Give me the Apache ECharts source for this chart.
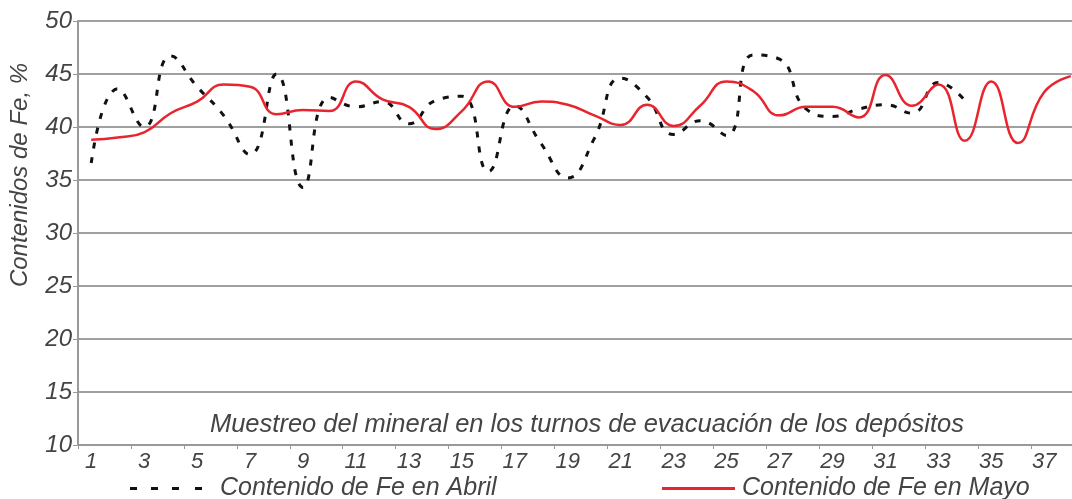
<!DOCTYPE html>
<html>
<head>
<meta charset="utf-8">
<script src="https://cdn.jsdelivr.net/npm/echarts@6/dist/echarts.min.js"></script>
<style>
  html, body { margin: 0; padding: 0; background: #fff; }
  #chart { width: 1072px; height: 499px; }
</style>
</head>
<body>
<div id="chart"></div>
<script>
var chart = echarts.init(document.getElementById("chart"));

// turnos de muestreo 1..38
var turnos = [];
for (var i = 1; i <= 38; i++) turnos.push(String(i));

// contenido de Fe en abril (solo hasta el turno 34)
var abril = [36.6, 43.6, 40.0, 46.7, 43.8, 41.1, 37.4, 45.0, 34.3, 42.8,
  41.9, 42.4, 40.3, 42.5, 42.9, 35.8, 42.0, 38.4, 35.2, 38.9,
  44.6, 42.8, 39.3, 40.6, 39.2, 46.8, 46.4, 41.7, 41.0, 41.7,
  42.1, 41.3, 44.2, 42.5, null, null, null, null];

// contenido de Fe en mayo
var mayo = [38.8, 39.0, 39.5, 41.3, 42.4, 44.0, 43.8, 41.2, 41.6, 41.5,
  44.3, 42.6, 41.9, 39.8, 41.5, 44.3, 41.9, 42.4, 42.1, 41.1,
  40.2, 42.1, 40.1, 42.0, 44.3, 43.4, 41.1, 41.9, 41.9, 40.9,
  44.9, 42.0, 44.0, 38.7, 44.3, 38.5, 43.3, 44.8];

var font = "Liberation Sans";
var txt = "#444";

var option = {
  animation: false,
  // the picture is cut on the right, so the plot runs past the canvas
  grid: { left: 78, width: 1006, top: 21, bottom: 54, outerBoundsMode: "none", containLabel: false },
  legend: [
    {
      left: 125, top: 471,
      itemWidth: 72, itemHeight: 3,
      icon: "path://M0,0h7v3h-7zM21,0h7v3h-7zM42,0h7v3h-7zM65,0h7v3h-7z",
      data: ["Contenido de Fe en Abril"],
      textStyle: { fontFamily: font, fontStyle: "italic", fontSize: 25, color: txt, padding: [0, 0, 0, 13] }
    },
    {
      left: 657, top: 471,
      itemWidth: 73, itemHeight: 3,
      icon: "rect",
      data: ["Contenido de Fe en Mayo"],
      textStyle: { fontFamily: font, fontStyle: "italic", fontSize: 25, color: txt, padding: [0, 0, 0, 2] }
    }
  ],
  xAxis: {
    type: "category",
    data: turnos,
    boundaryGap: true,
    axisLine: { lineStyle: { color: "#999", width: 2 } },
    axisTick: { show: true, length: 4, lineStyle: { color: "#999" } },
    axisLabel: {
      interval: 1,
      margin: 6,
      fontFamily: font, fontStyle: "italic", fontSize: 22, color: txt
    }
  },
  yAxis: {
    type: "value",
    min: 10, max: 50, interval: 5,
    axisLine: { show: true, lineStyle: { color: "#999", width: 2 } },
    axisTick: { show: true, length: 5, lineStyle: { color: "#999" } },
    axisLabel: {
      margin: 6,
      fontFamily: font, fontStyle: "italic", fontSize: 24, color: txt
    },
    splitLine: { lineStyle: { color: "#a0a0a0", width: 2 } }
  },
  graphic: [
    {
      type: "text",
      x: 20, y: 175,
      rotation: Math.PI / 2,
      style: {
        text: "Contenidos de Fe, %",
        fontFamily: font, fontStyle: "italic", fontSize: 24, fill: txt,
        align: "center", verticalAlign: "middle"
      }
    },
    {
      type: "text",
      x: 587, y: 425,
      style: {
        text: "Muestreo del mineral en los turnos de evacuación de los depósitos",
        fontFamily: font, fontStyle: "italic", fontSize: 25.5, fill: txt,
        align: "center", verticalAlign: "middle"
      }
    }
  ],
  series: [
    {
      name: "Contenido de Fe en Abril",
      type: "line",
      data: abril,
      smooth: 0.5,
      symbol: "none",
      lineStyle: { color: "#111", width: 3, type: [6, 9] },
      itemStyle: { color: "#111" }
    },
    {
      name: "Contenido de Fe en Mayo",
      type: "line",
      data: mayo,
      smooth: 0.5,
      symbol: "none",
      lineStyle: { color: "#e8252f", width: 2.5 },
      itemStyle: { color: "#e8252f" }
    }
  ]
};

chart.setOption(option);
</script>
</body>
</html>
